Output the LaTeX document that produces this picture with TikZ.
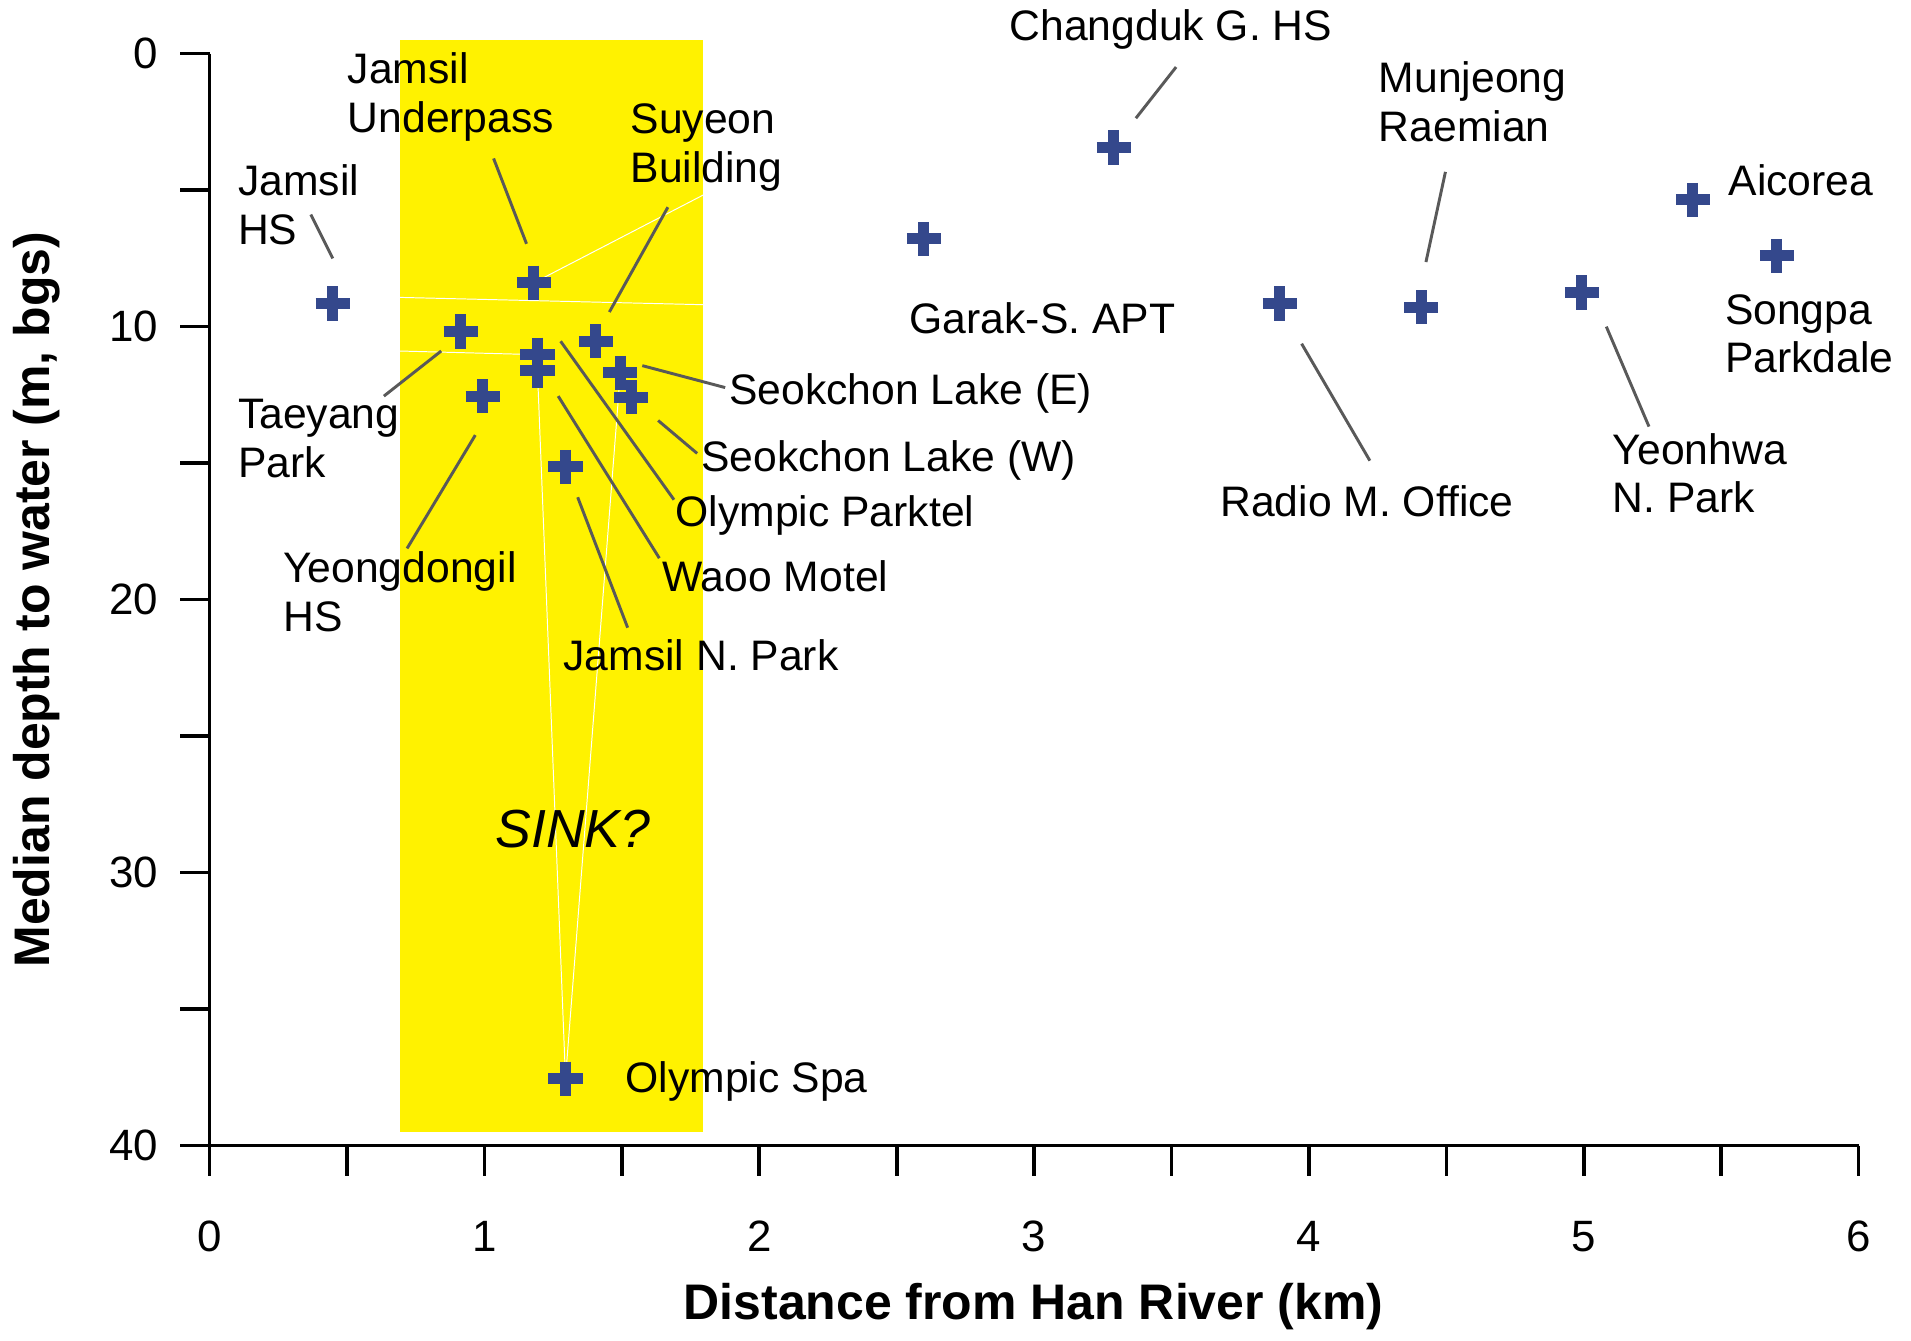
\documentclass[tikz,border=0pt]{standalone}
\usepackage{fontspec}
\setmainfont{Liberation Sans}
\usetikzlibrary{calc}
\begin{document}
\begin{tikzpicture}[x=0.5pt,y=-0.5pt,
  lbl/.style={font=\fontsize{17.5}{20}\selectfont, align=left, inner sep=0pt},
  ldr/.style={draw=black!65, line width=1.2pt},
  pt/.style={inner sep=0pt, minimum size=0pt},
  tk/.style={font=\fontsize{18}{21}\selectfont}]
\definecolor{navy}{RGB}{52,72,140}
\definecolor{yel}{RGB}{255,242,0}
\useasboundingbox (0,0) rectangle (1568,1100);
\fill[yel] (328,33) rectangle (577,929);
\draw[white, line width=0.4pt] (328,244) -- (577,250) (438,232) -- (577,160) (464,885) -- (441,305) (464,885) -- (509,306) (328,288)--(441,291);
% axes
\draw[line width=1.5pt] (172,44) -- (172,940) -- (1525,940);
\foreach \i in {0,...,8} \draw[line width=1.5pt] (172,44+\i*112) -- (148,44+\i*112);
\foreach \v [count=\k from 0] in {0,10,20,30,40} \node[tk, anchor=east] at (137,44+\k*224) {\v};
\foreach \i in {0,...,12} \draw[line width=1.5pt] (172+\i*112.75,940) -- (172+\i*112.75,965);
\foreach \v in {0,...,6} \node[tk, anchor=north] at (172+\v*225.5,995) {\v};
\node[font=\bfseries\fontsize{20.5}{24}\selectfont] at (848,1072) {Distance from Han River (km)};
\node[font=\bfseries\fontsize{20.5}{24}\selectfont, rotate=90] at (30,492) {Median depth to water (m, bgs)};
\node[font=\itshape\fontsize{22}{26}\selectfont] at (470,680) {SINK?};
% points
\foreach \n/\x/\y in {jhs/273/249, jup/438/232, tae/378/272, yeo/396/325, suy/489/280, opk/441/291, wao/441/304, sce/509/306, scw/518/326, jnp/464/383, osp/464/885, gar/758/196, cha/914/121, rad/1050/249, mun/1166/252, yeon/1298/240, aic/1389/164, song/1458/210}{
  \node[pt] (\n) at (\x,\y) {};
  \draw[navy, line width=4.5pt] (\x-14,\y) -- (\x+14,\y) (\x,\y-14) -- (\x,\y+14);
}
% labels
\node[lbl, anchor=north west] at (195,135) {Jamsil\\HS};
\node[lbl, anchor=north west] at (285,43) {Jamsil\\Underpass};
\node[lbl, anchor=north west] at (517,85) {Suyeon\\Building};
\node[lbl, anchor=north west] at (195,327) {Taeyang\\Park};
\node[lbl, anchor=north west] at (232,452) {Yeongdongil\\HS};
\node[lbl, anchor=west] at (598,323) {Seokchon Lake (E)};
\node[lbl, anchor=west] at (575,378) {Seokchon Lake (W)};
\node[lbl, anchor=west] at (554,423) {Olympic Parktel};
\node[lbl, anchor=west] at (543,473) {Waoo Motel};
\node[lbl, anchor=west] at (462,538) {Jamsil N. Park};
\node[lbl, anchor=west] at (513,887) {Olympic Spa};
\node[lbl, anchor=west] at (828,24) {Changduk G. HS};
\node[lbl, anchor=west] at (746,261) {Garak-S. APT};
\node[lbl, anchor=north west] at (1131,50) {Munjeong\\Raemian};
\node[lbl, anchor=west] at (1001,411) {Radio M. Office};
\node[lbl, anchor=north west] at (1323,355) {Yeonhwa\\N. Park};
\node[lbl, anchor=west] at (1418,148) {Aicorea};
\node[lbl, anchor=north west] at (1415,241) {Songpa\\Parkdale};
% leaders
\draw[ldr] (255,176) -- ($(jhs)+(0,-37)$);
\draw[ldr] (405,130) -- ($(jup)+(-6,-32)$);
\draw[ldr] (548,170) -- ($(suy)+(11,-24)$);
\draw[ldr] (315,325) -- ($(tae)+(-16,16)$);
\draw[ldr] (334,450) -- ($(yeo)+(-6,32)$);
\draw[ldr] (595,318) -- ($(sce)+(18,-6)$);
\draw[ldr] (572,372) -- ($(scw)+(22,19)$);
\draw[ldr] (553,410) -- ($(opk)+(19,-11)$);
\draw[ldr] (541,458) -- ($(wao)+(17,21)$);
\draw[ldr] (515,515) -- ($(jnp)+(10,25)$);
\draw[ldr] (965,55) -- ($(cha)+(18,-24)$);
\draw[ldr] (1186,141) -- ($(mun)+(4,-37)$);
\draw[ldr] (1124,378) -- ($(rad)+(18,33)$);
\draw[ldr] (1353,350) -- ($(yeon)+(20,28)$);
\end{tikzpicture}
\end{document}
